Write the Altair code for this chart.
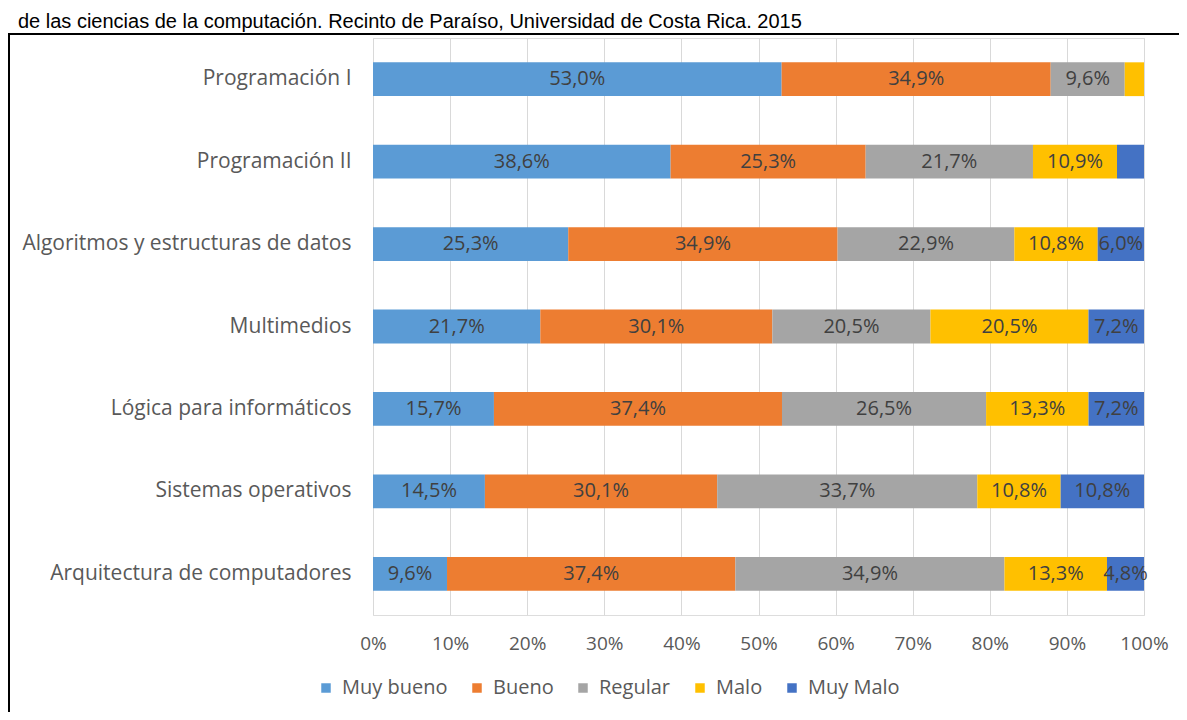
import altair as alt
import pandas as pd

cursos = [
    "Programación I",
    "Programación II",
    "Algoritmos y estructuras de datos",
    "Multimedios",
    "Lógica para informáticos",
    "Sistemas operativos",
    "Arquitectura de computadores",
]
categorias = ["Muy bueno", "Bueno", "Regular", "Malo", "Muy Malo"]
colores = ["#5B9BD5", "#ED7D31", "#A5A5A5", "#FFC000", "#4472C4"]

muy_bueno = [53.0, 38.6, 25.3, 21.7, 15.7, 14.5, 9.6]
bueno = [34.9, 25.3, 34.9, 30.1, 37.4, 30.1, 37.4]
regular = [9.6, 21.7, 22.9, 20.5, 26.5, 33.7, 34.9]
malo = [2.5, 10.9, 10.8, 20.5, 13.3, 10.8, 13.3]
muy_malo = [0.0, 3.5, 6.0, 7.2, 7.2, 10.8, 4.8]

x_ticks = [0.0, 0.1, 0.2, 0.3, 0.4, 0.5, 0.6, 0.7, 0.8, 0.9, 1.0]
titulo = "de las ciencias de la computación. Recinto de Paraíso, Universidad de Costa Rica. 2015"

series = [muy_bueno, bueno, regular, malo, muy_malo]
rows = []
for ci, (cat, vals) in enumerate(zip(categorias, series)):
    for curso, v in zip(cursos, vals):
        label = (f"{v:.1f}".replace(".", ",") + "%") if v >= 4 else ""
        rows.append({"curso": curso, "cat": cat, "orden": ci, "v": v, "label": label})
df = pd.DataFrame(rows)

FONT = "Open Sans"
W, H = 771, 577
PAD = {"left": 365, "top": 30, "right": 35, "bottom": 97}

base = alt.Chart(df).transform_stack(
    stack="v",
    groupby=["curso"],
    as_=["v0", "v1"],
    offset="normalize",
    sort=[alt.SortField("orden", order="ascending")],
)

y_enc = alt.Y(
    "curso:N",
    sort=cursos,
    title=None,
    scale=alt.Scale(paddingInner=0.59, paddingOuter=0.295),
    axis=alt.Axis(
        labelFont=FONT,
        labelFontSize=21,
        labelColor="#595959",
        labelPadding=22,
        ticks=False,
        domain=False,
        grid=False,
        labelLimit=400,
    ),
)

bars = base.mark_bar().encode(
    x=alt.X(
        "v0:Q",
        title=None,
        scale=alt.Scale(domain=[0, 1], nice=False),
        axis=alt.Axis(
            format=".0%",
            values=x_ticks,
            labelFont=FONT,
            labelFontSize=19,
            labelColor="#595959",
            labelPadding=19,
            labelFlush=False,
            labelOverlap=False,
            ticks=False,
            domain=False,
            grid=True,
            gridColor="#D9D9D9",
            gridWidth=1,
        ),
    ),
    x2="v1:Q",
    y=y_enc,
    color=alt.Color(
        "cat:N",
        sort=categorias,
        scale=alt.Scale(domain=categorias, range=colores),
        legend=alt.Legend(
            title=None,
            orient="none",
            legendX=-57,
            legendY=640,
            direction="horizontal",
            symbolType="square",
            symbolSize=90,
            symbolStrokeWidth=0,
            labelFont=FONT,
            labelFontSize=20,
            labelColor="#595959",
            labelOffset=6,
            columnPadding=19,
        ),
    ),
)

texts = base.transform_calculate(mid="(datum.v0 + datum.v1) / 2").mark_text(
    font=FONT, fontSize=20, color="#404040", baseline="middle", align="center"
).encode(
    x=alt.X("mid:Q"),
    y=alt.Y("curso:N", sort=cursos),
    text="label:N",
)

one = pd.DataFrame({"t": [titulo]})
title_txt = alt.Chart(one).mark_text(
    align="left", baseline="alphabetic", font="Liberation Sans", fontSize=20, color="black"
).encode(x=alt.value(18 - 373), y=alt.value(-10), text="t:N")

border_left = alt.Chart(one).mark_rule(color="black", strokeWidth=2).encode(
    x=alt.value(-364), y=alt.value(-4), y2=alt.value(H + PAD["bottom"] + 5)
)
border_top = alt.Chart(one).mark_rule(color="black", strokeWidth=2).encode(
    x=alt.value(-365), x2=alt.value(W + PAD["right"] + 5), y=alt.value(-4)
)

chart = (
    alt.layer(bars, texts, title_txt, border_left, border_top)
    .properties(width=W, height=H, padding=PAD, autosize=alt.AutoSizeParams(type="none"))
    .configure_view(stroke=None)
    .configure(background="white")
)

chart.save("out.html", embed_options={"renderer": "svg", "actions": False})
